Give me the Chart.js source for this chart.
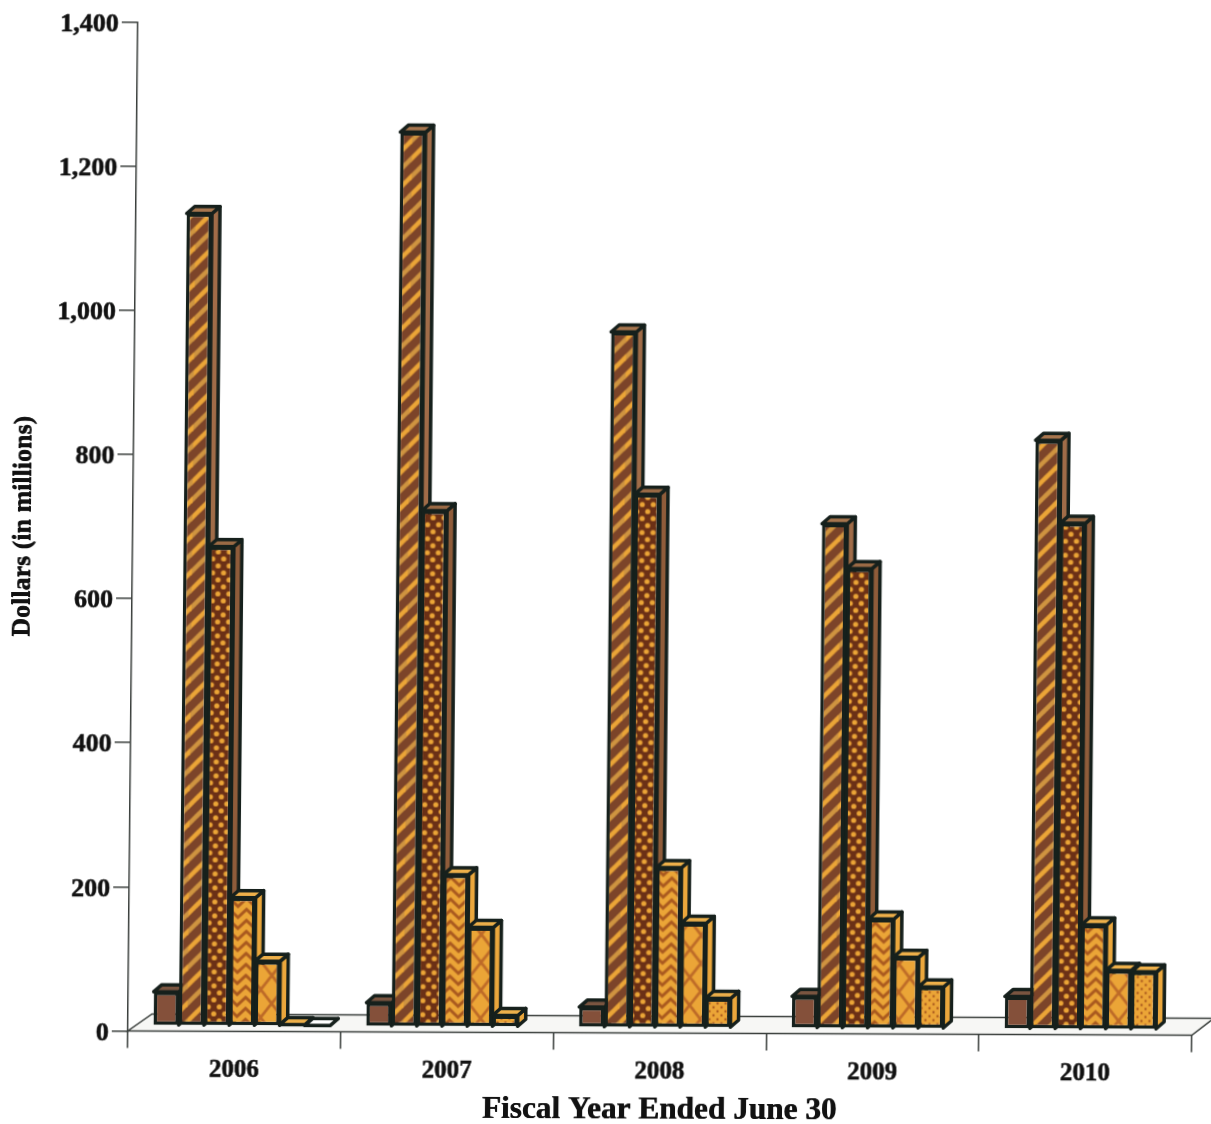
<!DOCTYPE html>
<html>
<head>
<meta charset="utf-8">
<title>Dollars by fiscal year</title>
<script src="https://cdn.jsdelivr.net/npm/chart.js@4"></script>
<style>
html,body{margin:0;padding:0;background:#fff;overflow:hidden}
#wrap{width:1211px;height:1124px}
/* the scan leans a little, so the whole chart is sheared to match */
#chart{display:block;transform-origin:0 0;transform:matrix(1,0.004,-0.0099,1,10,0)}
</style>
</head>
<body>
<div id="wrap"><canvas id="chart" width="1211" height="1124"></canvas></div>
<script>
const YEARS = ['2006','2007','2008','2009','2010'];
const SERIES_A = [47,33,28,44,45];
const SERIES_B = [1127,1241,965,700,817];
const SERIES_C = [665,716,740,638,702];
const SERIES_D = [178,211,222,152,145];
const SERIES_E = [90,138,145,99,82];
const SERIES_F = [2,16,41,58,80];
const SERIES_G = [1,null,null,null,null];
const SERIES = [SERIES_A,SERIES_B,SERIES_C,SERIES_D,SERIES_E,SERIES_F,SERIES_G];

const INK = '#16201c';
const BROWN = '#7c4429', PLAIN = '#84503a', DARK = '#6b3016', ORANGE = '#eba537', LINE = '#a9591f';
const SIDE = ['#8a5a42','#a06c48','#8f5c3a','#eba73c','#eba73c','#eba73c','#ffffff'];
const TOP = ['#7a5540','#a8764e','#9a6a45','#eeb04a','#eeb04a','#eeb04a','#ffffff'];
const DEPTH_X = 8, DEPTH_Y = 7;

function tile(w,h,paint){
  const c = document.createElement('canvas');
  c.width = w; c.height = h;
  paint(c.getContext('2d'));
  return c.getContext('2d').createPattern(c,'repeat');
}
function dots(g,bg,fg,w,h,r){
  g.fillStyle = bg; g.fillRect(0,0,w,h);
  g.fillStyle = fg;
  [[w/4,h/4],[w*3/4,h*3/4]].forEach(p=>{ g.beginPath(); g.arc(p[0],p[1],r,0,Math.PI*2); g.fill(); });
}
function makeFills(){
  const stripes = tile(18,36,g=>{
    g.fillStyle = BROWN; g.fillRect(0,0,18,36);
    g.lineWidth = 4.6;
    [[ORANGE,18],['#cf9440',36],['#cf9440',0],[ORANGE,54]].forEach(s=>{
      g.strokeStyle = s[0];
      g.beginPath(); g.moveTo(-3,s[1]+3); g.lineTo(21,s[1]-21); g.stroke();
    });
  });
  const bigDots = tile(11,14,g=>dots(g,DARK,ORANGE,11,14,2.6));
  const zigzag = tile(17,11,g=>{
    g.fillStyle = ORANGE; g.fillRect(0,0,17,11);
    g.strokeStyle = LINE; g.lineWidth = 3;
    [-11,0,11].forEach(o=>{
      g.beginPath(); g.moveTo(-1,o); g.lineTo(8.5,o+9); g.lineTo(18,o); g.stroke();
    });
  });
  const lattice = tile(22,28,g=>{
    g.fillStyle = ORANGE; g.fillRect(0,0,22,28);
    g.strokeStyle = '#bd6a28'; g.lineWidth = 2.8;
    g.beginPath();
    g.moveTo(0,0); g.lineTo(22,28);
    g.moveTo(22,0); g.lineTo(0,28);
    g.stroke();
  });
  const smallDots = tile(8,8,g=>dots(g,ORANGE,'#a9591f',8,8,1.2));
  return [PLAIN,stripes,bigDots,zigzag,lattice,smallDots,'#ffffff'];
}

function barBox(el){
  const p = el.getProps(['x','y','base','width'],true);
  return {x0:p.x-p.width/2,x1:p.x+p.width/2,y:p.y,base:p.base};
}

// floor first, then blocks left to right so each front covers the side before it
const depthPlugin = {
  id:'depth',
  beforeDatasetsDraw(chart){
    const {ctx,chartArea:a} = chart;
    ctx.save();
    ctx.beginPath();
    ctx.moveTo(a.left,a.bottom);
    ctx.lineTo(a.right,a.bottom);
    ctx.lineTo(a.right+22,a.bottom-17);
    ctx.lineTo(a.left+24,a.bottom-17);
    ctx.closePath();
    ctx.fillStyle = '#f7f7f5';
    ctx.fill();
    ctx.strokeStyle = '#3a3f3c';
    ctx.lineWidth = 1.5;
    ctx.stroke();
    ctx.translate(7.5,-5.5);
    ctx.lineWidth = 3.5;
    ctx.lineJoin = 'round';
    ctx.strokeStyle = INK;
    SERIES.forEach((values,i)=>{
      chart.getDatasetMeta(i).data.forEach((el,k)=>{
        if(values[k]==null) return;
        const b = barBox(el);
        ctx.fillStyle = SIDE[i];
        ctx.beginPath();
        ctx.moveTo(b.x1,b.y); ctx.lineTo(b.x1+DEPTH_X,b.y-DEPTH_Y); ctx.lineTo(b.x1+DEPTH_X,b.base-DEPTH_Y); ctx.lineTo(b.x1,b.base);
        ctx.closePath(); ctx.fill(); ctx.stroke();
        ctx.fillStyle = TOP[i];
        ctx.beginPath();
        ctx.moveTo(b.x0,b.y); ctx.lineTo(b.x0+DEPTH_X,b.y-DEPTH_Y); ctx.lineTo(b.x1+DEPTH_X,b.y-DEPTH_Y); ctx.lineTo(b.x1,b.y);
        ctx.closePath(); ctx.fill(); ctx.stroke();
        el.draw(ctx);
      });
    });
    ctx.restore();
  },
  beforeDatasetDraw(){ return false; }
};

// y labels sit a bit under their ticks in the scan, and the axis titles print heavier
const textPlugin = {
  id:'scanText',
  beforeDraw(chart){
    if(chart.$textPatched) return;
    chart.$textPatched = true;
    const {x,y} = chart.scales, ctx = chart.ctx;
    const drawLabels = y.drawLabels;
    y.drawLabels = function(a){ ctx.save(); ctx.translate(0,2.5); drawLabels.call(this,a); ctx.restore(); };
    [x,y].forEach(s=>{
      const drawTitle = s.drawTitle;
      s.drawTitle = function(){ drawTitle.call(this); ctx.save(); ctx.translate(0.6,0.3); drawTitle.call(this); ctx.restore(); };
    });
  }
};

const fills = makeFills();
const serif = 'Liberation Serif';
new Chart(document.getElementById('chart').getContext('2d'),{
  type:'bar',
  data:{
    labels:YEARS,
    datasets:SERIES.map((values,i)=>({
      data:values,
      backgroundColor:fills[i],
      borderColor:INK,
      borderWidth:3.5,
      borderSkipped:false,
      clip:false,
      barPercentage:1,
      categoryPercentage:0.83
    }))
  },
  options:{
    responsive:false,
    animation:false,
    layout:{padding:{top:21.5,right:19,bottom:0,left:0}},
    plugins:{legend:{display:false},tooltip:{enabled:false}},
    scales:{
      x:{
        afterFit(s){ s.height = 93.5; },
        grid:{drawOnChartArea:false,tickLength:17,tickColor:'#3a3f3c',lineWidth:1.5},
        border:{display:false},
        ticks:{color:'#111',padding:7,maxRotation:0,textStrokeColor:'#111',textStrokeWidth:0.6,font:{family:serif,weight:'bold',size:25}},
        title:{display:true,text:'Fiscal Year Ended June 30',color:'#111',padding:0,font:{family:serif,weight:'bold',size:31.3,lineHeight:1.05}}
      },
      y:{
        min:0,max:1400,
        afterFit(s){ s.width = 128; },
        grid:{drawOnChartArea:false,tickLength:16,tickColor:'#3a3f3c',lineWidth:1.5},
        border:{display:true,color:'#3a3f3c',width:1.5},
        ticks:{stepSize:200,color:'#111',padding:3,textStrokeColor:'#111',textStrokeWidth:0.6,font:{family:serif,weight:'bold',size:26},
          callback:v=>v.toLocaleString('en-US')},
        title:{display:true,text:'Dollars (in millions)',color:'#111',padding:{top:3,bottom:0},font:{family:serif,weight:'bold',size:26}}
      }
    }
  },
  plugins:[depthPlugin,textPlugin]
});
</script>
</body>
</html>
